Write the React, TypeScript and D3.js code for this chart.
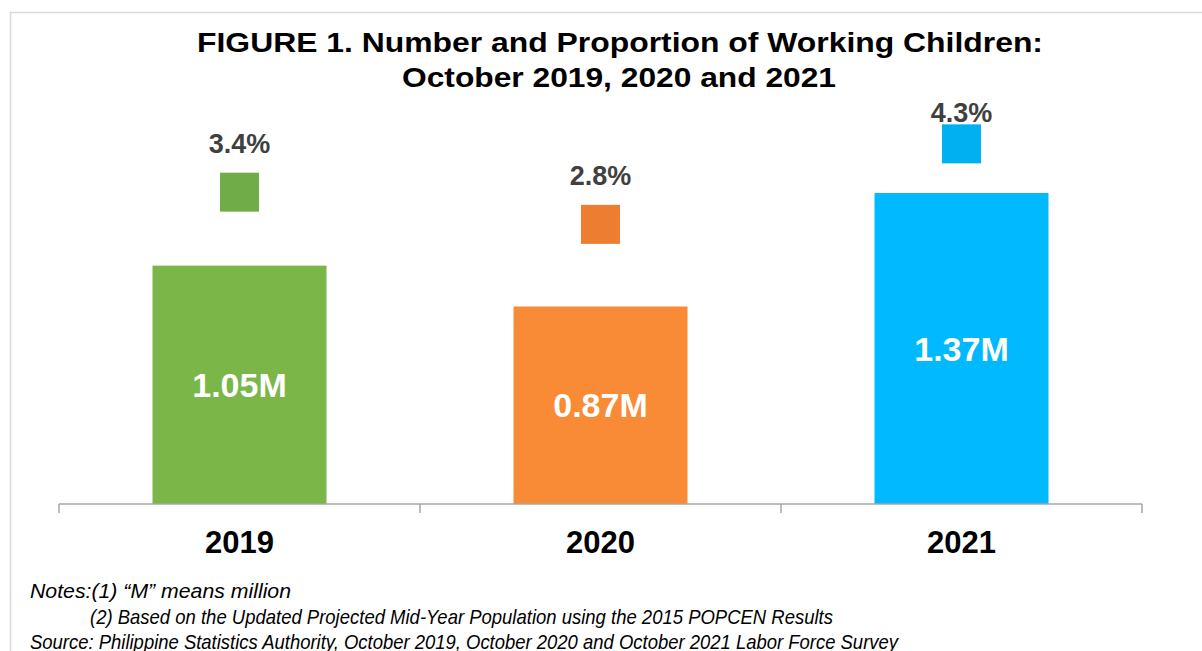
import React from "react";
import * as d3 from "d3";

const years = ["2019", "2020", "2021"];
const workingChildrenM = [1.05, 0.87, 1.37];
const proportionPct = [3.4, 2.8, 4.3];
const barColors = ["#7AB648", "#F98A36", "#00B9FF"];
const markerColors = ["#70AD47", "#ED7D31", "#00B0F0"];
const titleLines = [
  "FIGURE 1. Number and Proportion of Working Children:",
  "October 2019, 2020 and 2021",
];
const noteLines = [
  "Notes:(1) \u201CM\u201D means million",
  "(2) Based on the Updated Projected Mid-Year Population using the 2015 POPCEN Results",
  "Source: Philippine Statistics Authority, October 2019, October 2020 and October 2021 Labor Force Survey",
];

const W = 1202;
const H = 651;
const FONT = "'Liberation Sans', Arial, Helvetica, sans-serif";

export default function App() {
  const axisY = 504;
  const x = d3.scaleBand<string>().domain(years).range([59, 1142]).padding(0);
  const y = d3.scaleLinear().domain([0, 1.6]).range([axisY, axisY - 1.6 * 227]);
  const y2 = d3.scaleLinear().domain([0, 5]).range([374.6, 106.3]);
  const barW = x.bandwidth() * 0.482;
  const markerSize = 39;
  const ticks = [...years.map((yr) => x(yr) as number), 1142];

  return (
    <svg
      width={W}
      height={H}
      style={{ position: "absolute", left: 0, top: 0, background: "#fff" }}
      fontFamily={FONT}
    >
      <rect x={0} y={0} width={W} height={H} fill="#fff" />
      <rect x={10.5} y={12.5} width={1400} height={900} fill="none" stroke="#d9d9d9" strokeWidth={1.5} />

      {/* title */}
      <text x={620} y={52} textAnchor="middle" fontSize={27} fontWeight="bold" fill="#000"
        textLength={846} lengthAdjust="spacingAndGlyphs">{titleLines[0]}</text>
      <text x={619} y={87} textAnchor="middle" fontSize={27} fontWeight="bold" fill="#000"
        textLength={434} lengthAdjust="spacingAndGlyphs">{titleLines[1]}</text>

      {/* bars */}
      {years.map((yr, i) => {
        const cx = (x(yr) as number) + x.bandwidth() / 2;
        const top = y(workingChildrenM[i]);
        const mid = (top + axisY) / 2;
        return (
          <g key={yr}>
            <rect x={cx - barW / 2} y={top} width={barW} height={axisY - top} fill={barColors[i]} />
            <text x={cx} y={mid + 0.36 * 34} textAnchor="middle" fontSize={34} fontWeight="bold" fill="#fff">
              {workingChildrenM[i].toFixed(2) + "M"}
            </text>
          </g>
        );
      })}

      {/* markers */}
      {years.map((yr, i) => {
        const cx = (x(yr) as number) + x.bandwidth() / 2;
        const cy = y2(proportionPct[i]);
        const labelY = Math.max(cy - markerSize / 2 - 20, 122);
        return (
          <g key={"m" + yr}>
            <rect x={cx - markerSize / 2} y={cy - markerSize / 2} width={markerSize} height={markerSize}
              fill={markerColors[i]} />
            <text x={cx} y={labelY} textAnchor="middle" fontSize={27} fontWeight="bold" fill="#404040">
              {proportionPct[i].toFixed(1) + "%"}
            </text>
          </g>
        );
      })}

      {/* axis */}
      <line x1={59} x2={1142} y1={axisY} y2={axisY} stroke="#a6a6a6" strokeWidth={1.5} />
      {ticks.map((t, i) => (
        <line key={"t" + i} x1={t} x2={t} y1={axisY} y2={axisY + 9} stroke="#a6a6a6" strokeWidth={1.5} />
      ))}
      {years.map((yr) => (
        <text key={"c" + yr} x={(x(yr) as number) + x.bandwidth() / 2} y={553} textAnchor="middle"
          fontSize={31} fontWeight="bold" fill="#000">{yr}</text>
      ))}

      {/* notes */}
      <text x={30} y={598} fontSize={21} fontStyle="italic" fill="#000"
        textLength={261} lengthAdjust="spacingAndGlyphs">{noteLines[0]}</text>
      <text x={90} y={624} fontSize={21} fontStyle="italic" fill="#000"
        textLength={743} lengthAdjust="spacingAndGlyphs">{noteLines[1]}</text>
      <text x={30} y={649} fontSize={21} fontStyle="italic" fill="#000"
        textLength={868} lengthAdjust="spacingAndGlyphs">{noteLines[2]}</text>
    </svg>
  );
}
